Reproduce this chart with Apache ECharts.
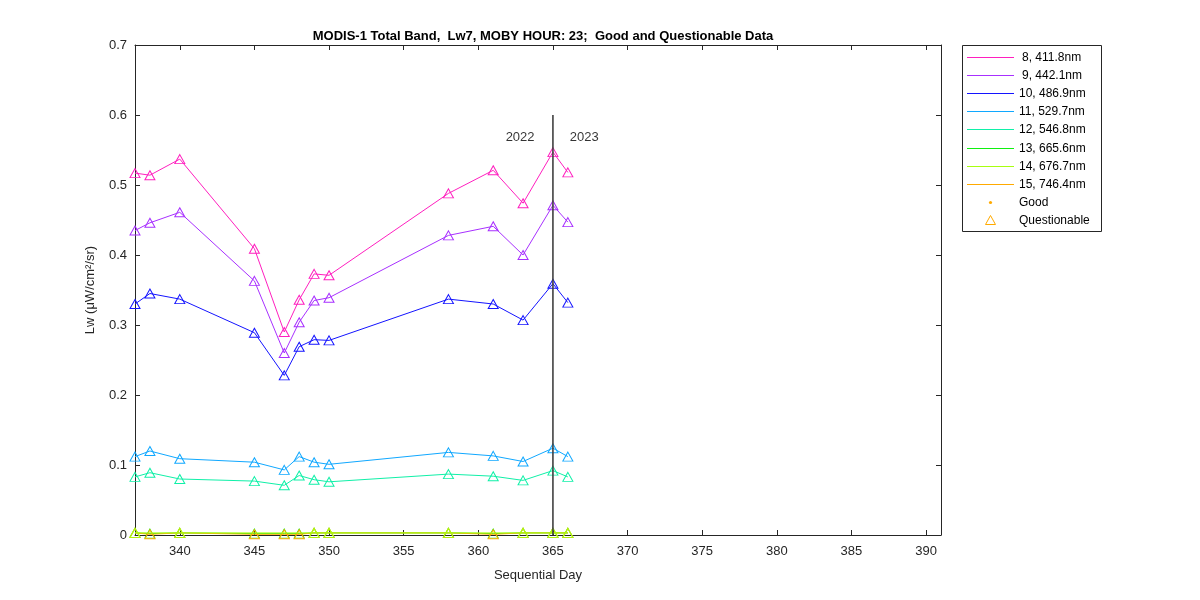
<!DOCTYPE html>
<html>
<head>
<meta charset="utf-8">
<script src="https://cdn.jsdelivr.net/npm/echarts@6/dist/echarts.min.js"></script>
<style>html,body{margin:0;padding:0;background:#fff;}#chart{width:1200px;height:600px;}</style>
</head>
<body>
<div id="chart"></div>
<script>
// ---- data ----
var days = [337, 338, 340, 345, 347, 348, 349, 350, 358, 361, 363, 365, 366];
var bandNames = ['8, 411.8nm', '9, 442.1nm', '10, 486.9nm', '11, 529.7nm', '12, 546.8nm', '13, 665.6nm', '14, 676.7nm', '15, 746.4nm'];
var band8  = [0.517, 0.514, 0.537, 0.409, 0.290, 0.336, 0.373, 0.371, 0.488, 0.521, 0.474, 0.547, 0.518];
var band9  = [0.435, 0.446, 0.461, 0.363, 0.260, 0.304, 0.335, 0.339, 0.428, 0.441, 0.400, 0.471, 0.447];
var band10 = [0.330, 0.345, 0.337, 0.289, 0.228, 0.269, 0.279, 0.278, 0.337, 0.330, 0.307, 0.359, 0.332];
var band11 = [0.112, 0.120, 0.109, 0.104, 0.093, 0.112, 0.104, 0.101, 0.118, 0.113, 0.105, 0.124, 0.112];
var band12 = [0.083, 0.089, 0.080, 0.077, 0.071, 0.085, 0.079, 0.076, 0.087, 0.084, 0.078, 0.092, 0.083];
var band13 = [0.003, 0.002, 0.003, 0.002, 0.002, 0.002, 0.003, 0.003, 0.003, 0.002, 0.003, 0.003, 0.003];
var band14 = [0.003, null, 0.003, null, null, null, 0.003, 0.003, 0.003, null, 0.003, 0.003, 0.003];
var band15 = [0.003, 0.001, 0.003, 0.001, 0.001, 0.001, 0.003, 0.003, 0.003, 0.001, 0.003, 0.003, 0.003];
var bandColors = ['#ff1fbf', '#a830ff', '#1414ff', '#10a8ff', '#10f0a8', '#10f010', '#a8ff10', '#ffaa00'];
var bandOrder = [8, 7, 6, 5, 4, 1, 3, 2]; // drawing level per band
var yearLineX = [365, 365];
var yearLineY = [0, 0.6];
var yearLabels = ['2022', '2023'];
var yearLabelX = [362.8, 367.1];
var yearLabelY = [0.5686, 0.5686];
var xTicks = [340, 345, 350, 355, 360, 365, 370, 375, 380, 385, 390];

var bands = [band8, band9, band10, band11, band12, band13, band14, band15];

// ---- chart ----
var FONT = '"Liberation Sans", Arial, Helvetica, sans-serif';
var AX = '#262626';
var chart = echarts.init(document.getElementById('chart'), null, {renderer: 'canvas'});

var series = [];
bands.forEach(function (vals, i) {
  series.push({
    name: bandNames[i],
    type: 'line',
    xAxisIndex: 0, yAxisIndex: 0,
    data: days.map(function (d, k) { return [d, vals[k]]; }),
    connectNulls: true,
    symbol: 'triangle',
    symbolSize: [10, 9],
    showAllSymbol: true,
    z: 10 + bandOrder[i],
    lineStyle: {color: bandColors[i], width: 1},
    itemStyle: {color: 'rgba(255,255,255,0)', borderColor: bandColors[i], borderWidth: 1},
    emphasis: {disabled: true},
    animation: false
  });
});
series.push({
  type: 'line',
  data: yearLineX.map(function (x, k) { return [x, yearLineY[k]]; }),
  symbol: 'none',
  lineStyle: {color: '#404040', width: 1.6},
  z: 30,
  animation: false
});
series.push({
  type: 'scatter',
  data: yearLabels.map(function (t, k) { return [yearLabelX[k], yearLabelY[k], t]; }),
  symbolSize: 0,
  label: {show: true, position: 'inside', formatter: function (p) { return p.data[2]; },
          color: '#000', fontSize: 13, fontFamily: FONT},
  z: 31,
  animation: false
});

// legend built from names and colours
var lgX = 962.5, lgY = 45.5, lgW = 139, lgH = 186, rowH = 18.1, row0 = 57;
var legendEls = [{
  type: 'rect', shape: {x: lgX, y: lgY, width: lgW, height: lgH},
  style: {fill: '#fff', stroke: AX, lineWidth: 1}
}];
bandNames.forEach(function (n, i) {
  var y = Math.round(row0 + i * rowH);
  legendEls.push({type: 'rect', shape: {x: 967, y: y, width: 47, height: 1}, style: {fill: bandColors[i]}});
  legendEls.push({type: 'text', x: (i < 2 ? 1022 : 1019), y: y + 0.5,
    style: {text: n, fill: '#000', font: '12px ' + FONT, verticalAlign: 'middle', textAlign: 'left'}});
});
var gy = Math.round(row0 + 8 * rowH) + 0.5, qy = Math.round(row0 + 9 * rowH) + 0.5;
legendEls.push({type: 'circle', shape: {cx: 990.5, cy: gy, r: 1.6}, style: {fill: '#ffaa00'}});
legendEls.push({type: 'text', x: 1019, y: gy, style: {text: 'Good', fill: '#000', font: '12px ' + FONT, verticalAlign: 'middle'}});
legendEls.push({type: 'polygon', shape: {points: [[990.5, qy - 5], [985.5, qy + 4], [995.5, qy + 4]]}, style: {fill: 'none', stroke: '#ffaa00', lineWidth: 1}});
legendEls.push({type: 'text', x: 1019, y: qy, style: {text: 'Questionable', fill: '#000', font: '12px ' + FONT, verticalAlign: 'middle'}});

var xBase = {
  type: 'value', min: 337, max: 391,
  axisLine: {show: true, onZero: false, lineStyle: {color: AX, width: 1}},
  axisTick: {show: true, inside: true, length: 5, customValues: xTicks, lineStyle: {color: AX}},
  splitLine: {show: false}
};
var yBase = {
  type: 'value', min: 0, max: 0.7, interval: 0.1,
  axisLine: {show: true, onZero: false, lineStyle: {color: AX, width: 1}},
  axisTick: {show: true, inside: true, length: 5, lineStyle: {color: AX}},
  splitLine: {show: false}
};

chart.setOption({
  backgroundColor: '#fff',
  animation: false,
  title: {
    text: 'MODIS-1 Total Band,  Lw7, MOBY HOUR: 23;  Good and Questionable Data',
    left: 538, top: 25, textAlign: 'center',
    textStyle: {fontSize: 13, fontWeight: 'bold', color: '#000', fontFamily: FONT}
  },
  grid: {left: 135, right: 259, top: 45, bottom: 65, containLabel: false},
  xAxis: [
    Object.assign({}, xBase, {
      position: 'bottom',
      name: 'Sequential Day', nameLocation: 'middle', nameGap: 34,
      nameTextStyle: {fontSize: 13, color: AX, fontFamily: FONT},
      axisLabel: {show: true, customValues: xTicks, margin: 10, fontSize: 13, color: AX, fontFamily: FONT}
    }),
    Object.assign({}, xBase, {position: 'top', axisLabel: {show: false}})
  ],
  yAxis: [
    Object.assign({}, yBase, {
      position: 'left',
      name: 'Lw (μW/cm²/sr)', nameLocation: 'middle', nameGap: 38, nameRotate: 90,
      nameTextStyle: {fontSize: 13, color: AX, fontFamily: FONT},
      axisLabel: {show: true, margin: 8, fontSize: 13, color: AX, fontFamily: FONT,
        formatter: function (v) { return String(Math.round(v * 10) / 10); }}
    }),
    Object.assign({}, yBase, {position: 'right', axisLabel: {show: false}})
  ],
  series: series,
  graphic: legendEls
});
</script>
</body>
</html>
